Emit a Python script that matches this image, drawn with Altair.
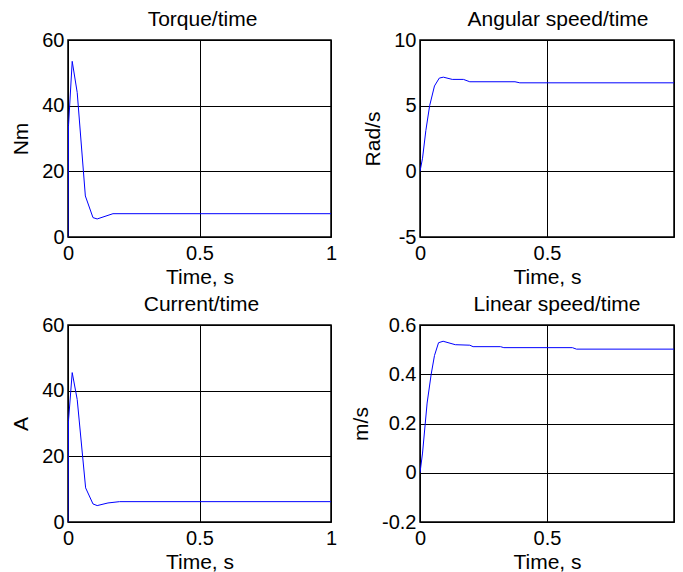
import altair as alt
import pandas as pd

# Torque (Nm) vs time (s)
torque_t = [0, 0.002, 0.016, 0.035, 0.066, 0.095, 0.111, 0.171, 1.0]
torque_v = [0, 34, 53.5, 44, 12.5, 5.9, 5.5, 7.1, 7.1]

# Angular speed (rad/s) vs time (s)
ang_t = [0, 0.01, 0.023, 0.038, 0.057, 0.076, 0.092, 0.127, 0.171, 0.196, 0.374, 0.393, 1.0]
ang_v = [0, 1.0, 3.1, 5.0, 6.5, 7.1, 7.17, 7.0, 7.0, 6.82, 6.82, 6.74, 6.74]

# Current (A) vs time (s)
cur_t = [0, 0.002, 0.016, 0.035, 0.067, 0.095, 0.111, 0.152, 0.196, 1.0]
cur_v = [0, 31, 45.5, 37.3, 10.4, 5.5, 5.0, 5.8, 6.2, 6.2]

# Linear speed (m/s) vs time (s)
lin_t = [0, 0.01, 0.028, 0.044, 0.057, 0.073, 0.091, 0.139, 0.196, 0.209, 0.317, 0.33, 0.6, 0.616, 1.0]
lin_v = [0, 0.08, 0.283, 0.4, 0.476, 0.528, 0.534, 0.52, 0.518, 0.512, 0.512, 0.508, 0.508, 0.502, 0.502]

x_ticks = [0, 0.5, 1]
torque_ticks = [0, 20, 40, 60]
ang_ticks = [-5, 0, 5, 10]
cur_ticks = [0, 20, 40, 60]
lin_ticks = [-0.2, 0, 0.2, 0.4, 0.6]

FONT = "Liberation Sans"
LFS = 20   # tick labels
TFS = 21   # titles
H = 197
W_LEFT, W_RIGHT = 263, 254


def panel(t, v, title, ytitle, ydom, yvals, width, dx, hide_last=False):
    df = pd.DataFrame({"t": t, "v": v})
    xexpr = "datum.value == 1 ? '' : '' + datum.value" if hide_last else "'' + datum.value"
    return (
        alt.Chart(
            df,
            title=alt.Title(title, fontSize=TFS, font=FONT, fontWeight="normal",
                            color="black", offset=-17, anchor="middle", frame="group",
                            baseline="alphabetic", dx=dx),
        )
        .mark_line(color="#0000ff", strokeWidth=1, clip=True)
        .encode(
            x=alt.X("t:Q", scale=alt.Scale(domain=[0, 1], nice=False, zero=False),
                    axis=alt.Axis(values=x_ticks, labelExpr=xexpr, title="Time, s")),
            y=alt.Y("v:Q", scale=alt.Scale(domain=ydom, nice=False, zero=False),
                    axis=alt.Axis(values=yvals, labelExpr="'' + datum.value", title=ytitle)),
        )
        .properties(width=width, height=H)
    )


p1 = panel(torque_t, torque_v, "Torque/time", "Nm", [0, 60], torque_ticks, W_LEFT, 3)
p2 = panel(ang_t, ang_v, "Angular speed/time", "Rad/s", [-5, 10], ang_ticks, W_RIGHT, 11, hide_last=True)
p3 = panel(cur_t, cur_v, "Current/time", "A", [0, 60], cur_ticks, W_LEFT, 2)
p4 = panel(lin_t, lin_v, "Linear speed/time", "m/s", [-0.2, 0.6], lin_ticks, W_RIGHT, 10, hide_last=True)

chart = (
    alt.concat(p1, p2, p3, p4, columns=2, spacing={"row": 88, "column": 89}, bounds="flush")
    .properties(padding={"left": 2, "top": 0, "right": 0, "bottom": 0}, background="white")
    .configure_view(stroke="black", strokeWidth=1.5)
    .configure_axis(
        grid=True, gridColor="black", gridOpacity=1, gridWidth=1,
        domain=False, ticks=False,
        labelFont=FONT, labelFontSize=LFS, labelColor="black",
        labelFlush=False, labelOverlap=False,
        titleFont=FONT, titleFontSize=TFS, titleFontWeight="normal", titleColor="black",
    )
    .configure_axisX(labelPadding=6, titlePadding=3)
    .configure_axisY(labelPadding=4, titlePadding=10)
)

chart.save("out.html", embed_options={"renderer": "svg", "actions": False})
